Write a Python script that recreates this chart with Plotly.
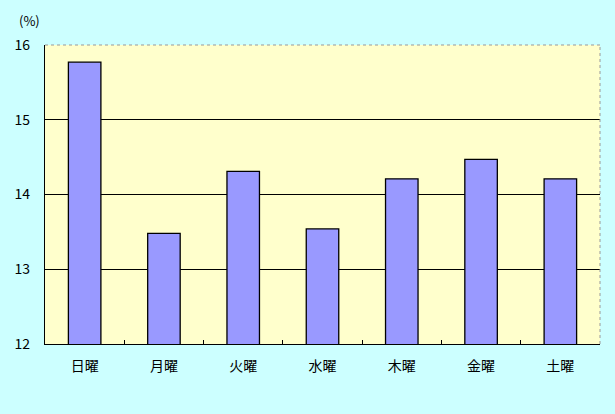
import plotly.graph_objects as go

days = ["日曜", "月曜", "火曜", "水曜", "木曜", "金曜", "土曜"]
values = [15.77, 13.48, 14.31, 13.54, 14.21, 14.47, 14.21]
y_ticks = [12, 13, 14, 15, 16]

font = "Noto Sans CJK JP, MS Gothic, sans-serif"

fig = go.Figure(go.Bar(
    x=days, y=values,
    marker=dict(color="#9999FF", line=dict(color="black", width=1.3)),
    width=0.41,
))

fig.update_layout(
    width=615, height=414,
    margin=dict(l=45, r=15, t=45, b=70),
    paper_bgcolor="#CCFFFF",
    plot_bgcolor="#FFFFCC",
    font=dict(family=font, size=13, color="black"),
    showlegend=False,
    xaxis=dict(
        showline=True, linecolor="black", linewidth=1.3,
        ticks="inside", ticklen=4, tickcolor="black", tickson="boundaries",
        showgrid=False, tickfont=dict(size=14), ticklabelstandoff=9,
    ),
    yaxis=dict(
        range=[12, 16], tickvals=y_ticks, ticktext=[str(v) for v in y_ticks],
        showline=True, linecolor="black", linewidth=1.3,
        ticks="inside", ticklen=4, tickcolor="black",
        showgrid=True, gridcolor="black", gridwidth=1.3,
        zeroline=False, tickfont=dict(size=14), ticklabelstandoff=11,
    ),
    shapes=[
        dict(type="line", xref="paper", yref="paper", x0=0, x1=1, y0=1, y1=1,
             line=dict(color="#999999", width=1, dash="dot"), layer="above"),
        dict(type="line", xref="paper", yref="paper", x0=1, x1=1, y0=0, y1=1,
             line=dict(color="#999999", width=1, dash="dot"), layer="above"),
    ],
    annotations=[
        dict(text="(%)", xref="paper", yref="paper", x=-0.05, y=1.045,
             xanchor="left", yanchor="bottom", showarrow=False,
             font=dict(size=13)),
    ],
)

fig.write_html(
    "out.html",
    config={"displayModeBar": False},
    post_script="document.body.style.margin='0';document.body.style.padding='0';document.body.style.overflow='hidden';",
)
